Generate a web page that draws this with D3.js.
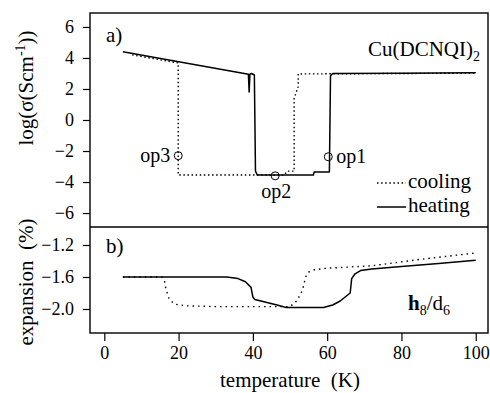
<!DOCTYPE html>
<html><head><meta charset="utf-8">
<script src="https://cdn.jsdelivr.net/npm/d3@7"></script>
<style>body{margin:0;background:#fff}svg{display:block}</style>
</head><body><svg id="c" width="490" height="393"></svg>
<script>
// Panel a: conductivity log(sigma)
const condHeatT = [5, 38.8, 39.0, 39.2, 39.6, 40.4, 40.7, 41.2, 56.3, 56.5, 60.6, 60.9, 61.5, 80, 100];
const condHeatV = [4.4, 2.95, 1.8, 2.95, 3.0, 2.9, -3.3, -3.55, -3.55, -3.35, -3.35, 2.85, 3.0, 3.02, 3.05];
const condCoolT = [7.5, 19.9, 19.9, 48.5, 49.2, 51.1, 51.1, 52.2, 52.2, 100];
const condCoolV = [4.2, 3.68, -3.55, -3.55, -3.3, -3.3, 1.4, 2.15, 2.97, 3.02];
// operating points
const opNames = ["op3", "op2", "op1"];
const opT = [19.9, 46, 60.3];
const opV = [-2.3, -3.6, -2.37];
// Panel b: expansion (%)
const expHeatT = [5, 20, 33, 36, 38, 39.5, 40, 40.5, 43, 46.5, 49, 55, 59, 61.5, 63.5, 66.2, 66.6, 67.5, 69, 72, 80, 90, 100];
const expHeatV = [-1.6, -1.6, -1.6, -1.62, -1.66, -1.73, -1.85, -1.88, -1.91, -1.95, -1.98, -1.98, -1.98, -1.95, -1.9, -1.8, -1.62, -1.56, -1.52, -1.5, -1.47, -1.43, -1.39];
const expCoolT = [5, 15.5, 16.2, 16.6, 17.5, 19, 22, 30, 50, 51.8, 53, 53.6, 54.2, 55, 56.5, 60, 72, 85, 100];
const expCoolV = [-1.6, -1.6, -1.65, -1.75, -1.88, -1.94, -1.96, -1.97, -1.97, -1.9, -1.8, -1.72, -1.6, -1.54, -1.51, -1.49, -1.46, -1.38, -1.3];
// ticks
const xTicks = [0, 20, 40, 60, 80, 100];
const condTicks = [6, 4, 2, 0, -2, -4, -6];
const expTicks = [-1.2, -1.6, -2.0];

const FONT = '"Liberation Serif", "Times New Roman", Times, serif';
const svg = d3.select("#c");
const L = 90, R = 488, T0 = 13, MID = 227, B = 333;
const x = d3.scaleLinear().domain([-3.85, 103.3]).range([L, R]);
const ya = d3.scaleLinear().domain([-6.9, 6.9]).range([MID, T0]);
const yb = d3.scaleLinear().domain([-2.3, -0.975]).range([B, MID]);

function series(ts, vs) { return ts.map((t, i) => [t, vs[i]]); }
function drawLine(y, data, dotted) {
  const g = d3.line().x(d => x(d[0])).y(d => y(d[1]));
  const p = svg.append("path").attr("d", g(data)).attr("fill", "none").attr("stroke", "#000")
    .attr("stroke-width", dotted ? 1.4 : 1.5).attr("stroke-linejoin", "round");
  if (dotted) p.attr("stroke-dasharray", dotted);
  return p;
}

// curves panel a
drawLine(ya, series(condCoolT, condCoolV), "1.5,2.6");
drawLine(ya, series(condHeatT, condHeatV), null);
// curves panel b
drawLine(yb, series(expCoolT, expCoolV), "1.5,4");
drawLine(yb, series(expHeatT, expHeatV), null);

// op circles
opNames.forEach((n, i) => {
  svg.append("circle").attr("cx", x(opT[i])).attr("cy", ya(opV[i])).attr("r", 4)
    .attr("fill", "none").attr("stroke", "#000").attr("stroke-width", 1);
});
svg.append("text").attr("x", x(opT[0]) - 8).attr("y", ya(opV[0]) + 6).attr("text-anchor", "end").attr("font-size", 20).text(opNames[0]);
svg.append("text").attr("x", x(opT[1]) + 1).attr("y", ya(opV[1]) + 22).attr("text-anchor", "middle").attr("font-size", 20).text(opNames[1]);
svg.append("text").attr("x", x(opT[2]) + 8).attr("y", ya(opV[2]) + 6).attr("text-anchor", "start").attr("font-size", 20).text(opNames[2]);

// frame
svg.append("rect").attr("x", L).attr("y", T0).attr("width", R - L).attr("height", B - T0)
  .attr("fill", "none").attr("stroke", "#000").attr("stroke-width", 1.4);
svg.append("line").attr("x1", L).attr("x2", R).attr("y1", MID).attr("y2", MID).attr("stroke", "#000").attr("stroke-width", 1.4);

// axes
function styleAxis(g) {
  g.attr("font-family", null).attr("font-size", null);
  g.select(".domain").remove();
  g.selectAll("line").attr("stroke", "#000").attr("stroke-width", 1.2);
  g.selectAll("text").attr("font-size", 18);
}
svg.append("g").attr("transform", `translate(0,${B})`)
  .call(d3.axisBottom(x).tickValues(xTicks).tickSize(8).tickPadding(5).tickFormat(d3.format("d")))
  .call(styleAxis);
svg.append("g").attr("transform", `translate(${L},0)`)
  .call(d3.axisLeft(ya).tickValues(condTicks).tickSize(7).tickPadding(9).tickFormat(d3.format("d")))
  .call(styleAxis);
svg.append("g").attr("transform", `translate(${L},0)`)
  .call(d3.axisLeft(yb).tickValues(expTicks).tickSize(7).tickPadding(9).tickFormat(d3.format(".1f")))
  .call(styleAxis);

// panel labels
svg.append("text").attr("x", 106).attr("y", 42).attr("font-size", 21).text("a)");
svg.append("text").attr("x", 106).attr("y", 253).attr("font-size", 21).text("b)");

// compound label
const cu = svg.append("text").attr("x", 368).attr("y", 56).attr("font-size", 21);
cu.append("tspan").text("Cu(DCNQI)");
cu.append("tspan").attr("font-size", 14).attr("dy", 5).text("2");

const hd = svg.append("text").attr("x", 408).attr("y", 310).attr("font-size", 21);
hd.append("tspan").attr("font-weight", "bold").text("h");
hd.append("tspan").attr("font-size", 14).attr("dy", 5).text("8");
hd.append("tspan").attr("dy", -5).text("/d");
hd.append("tspan").attr("font-size", 14).attr("dy", 5).text("6");

// legend
svg.append("line").attr("x1", 377).attr("x2", 406).attr("y1", 183).attr("y2", 183)
  .attr("stroke", "#000").attr("stroke-width", 1.4).attr("stroke-dasharray", "1.5,2.6");
svg.append("text").attr("x", 408).attr("y", 188).attr("font-size", 21).text("cooling");
svg.append("line").attr("x1", 377).attr("x2", 406).attr("y1", 207).attr("y2", 207)
  .attr("stroke", "#000").attr("stroke-width", 1.5);
svg.append("text").attr("x", 408).attr("y", 212).attr("font-size", 21).text("heating");

// axis titles
svg.append("text").attr("x", 290).attr("y", 387).attr("text-anchor", "middle").attr("font-size", 21)
  .attr("xml:space", "preserve").text("temperature  (K)");
const yl = svg.append("text").attr("transform", "translate(33,88) rotate(-90)").attr("text-anchor", "middle").attr("font-size", 21);
yl.append("tspan").text("log(σ(Scm");
yl.append("tspan").attr("font-size", 14).attr("dy", -8).text("-1");
yl.append("tspan").attr("dy", 8).text("))");
svg.append("text").attr("transform", "translate(33,282) rotate(-90)").attr("text-anchor", "middle").attr("font-size", 21)
  .attr("xml:space", "preserve").text("expansion  (%)");

svg.selectAll("text").style("font-family", FONT).style("fill", "#000");
</script></body></html>
